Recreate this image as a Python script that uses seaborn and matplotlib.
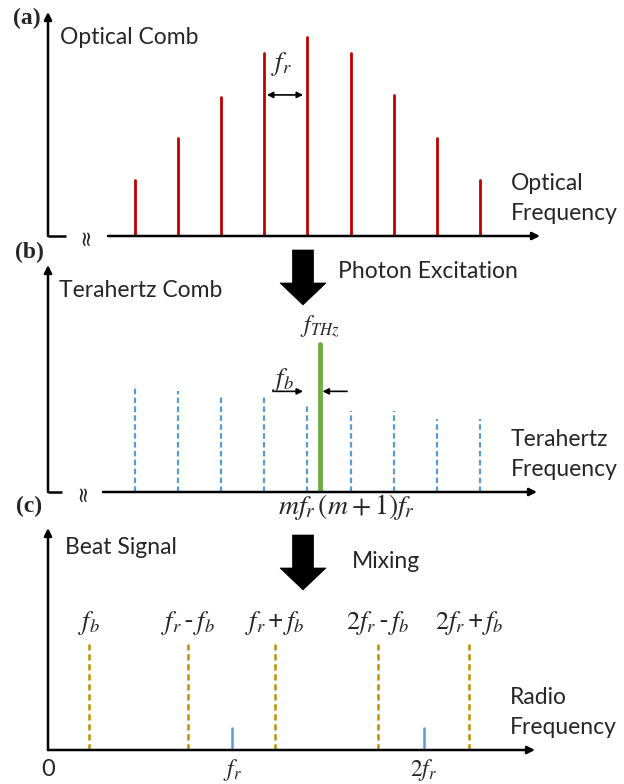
import numpy as np
import pandas as pd
import matplotlib
matplotlib.use("Agg")
import matplotlib.pyplot as plt
from matplotlib.patches import Polygon
import seaborn as sns

# ---------------- data ----------------
optical_idx = [0, 1, 2, 3, 4, 5, 6, 7, 8]
optical_amp = [0.28, 0.49, 0.70, 0.92, 1.00, 0.92, 0.71, 0.49, 0.28]

thz_idx = [0, 1, 2, 3, 4, 5, 6, 7, 8]
thz_amp = [0.72, 0.68, 0.65, 0.64, 0.60, 0.55, 0.55, 0.49, 0.49]
fthz_pos = [4.29]
fthz_amp = [1.0]

beat_pos = [0.218, 0.745, 1.207, 1.755, 2.239]
beat_amp = [1.0, 1.0, 1.0, 1.0, 1.0]
beat_labels = [r"$f_b$", r"$f_r\,$-$\,f_b$", r"$f_r\,$+$\,f_b$",
               r"$2f_r\,$-$\,f_b$", r"$2f_r\,$+$\,f_b$"]
rf_pos = [0.979, 2.0]
rf_amp = [0.21, 0.21]
tick_pos = [0.0, 0.979, 2.0]
tick_labels = ["0", r"$f_r$", r"$2f_r$"]

# ---------------- style ----------------
sns.set_theme(style="white")
plt.rcParams["font.family"] = ["Lato", "DejaVu Sans"]
plt.rcParams["mathtext.fontset"] = "stix"

W, H = 624, 784
fig = plt.figure(figsize=(W / 100, H / 100), dpi=100)

SANS = 16.5
MATH = 19


def px_axes(x0, y0, x1, y1):
    ax = fig.add_axes([x0 / W, 1 - y1 / H, (x1 - x0) / W, (y1 - y0) / H])
    ax.set_axis_off()
    return ax


def ftext(px, py, s, **kw):
    kw.setdefault("va", "center")
    fig.text(px / W, 1 - py / H, s, **kw)


def stems(pos, amp):
    rows = []
    for i, (x, a) in enumerate(zip(pos, amp)):
        rows.append(dict(x=x, y=0.0, id=i))
        rows.append(dict(x=x, y=a, id=i))
    return pd.DataFrame(rows)


def draw_axes(ax, gap=True, gap_end=0.037, squig=0.077, start=0.122):
    arrow = dict(arrowstyle="-|>", lw=1.8, color="black", mutation_scale=11,
                 shrinkA=0, shrinkB=0)
    ax.annotate("", xy=(0, 1), xytext=(0, 0), xycoords="axes fraction",
                arrowprops=arrow, annotation_clip=False)
    if gap:
        ax.plot([0, gap_end], [0, 0], color="black", lw=1.8,
                transform=ax.transAxes, clip_on=False, solid_capstyle="butt")
        ax.text(squig, 0.0, "≈", rotation=90, ha="center", va="center",
                fontsize=15, transform=ax.transAxes, family="DejaVu Sans")
        ax.annotate("", xy=(1, 0), xytext=(start, 0), xycoords="axes fraction",
                    arrowprops=arrow, annotation_clip=False)
    else:
        ax.annotate("", xy=(1, 0), xytext=(0, 0), xycoords="axes fraction",
                    arrowprops=arrow, annotation_clip=False)


def block_arrow(cx, top, head_y, tip):
    sw, hw = 10.5, 23
    verts = [(cx - sw, top), (cx + sw, top), (cx + sw, head_y), (cx + hw, head_y),
             (cx, tip), (cx - hw, head_y), (cx - sw, head_y)]
    verts = [(x / W, 1 - y / H) for x, y in verts]
    fig.patches.append(Polygon(verts, closed=True, transform=fig.transFigure,
                               facecolor="black", edgecolor="black", lw=0.5))


SX = 43.1  # pixels per comb index (layout only)

# ---------------- panel (a) ----------------
axa = px_axes(48, 12, 540, 236)
axa.set_xlim((48 - 135) / SX, (540 - 135) / SX)
axa.set_ylim(0, 224 / 199)
sns.lineplot(data=stems(optical_idx, optical_amp), x="x", y="y", units="id",
             estimator=None, sort=False, color="#C00000", lw=2.0, ax=axa,
             legend=False)
axa.set_axis_off()
draw_axes(axa)
axa.annotate("", xy=(3.90, 0.709), xytext=(3.06, 0.709),
             arrowprops=dict(arrowstyle="<|-|>", lw=1.2, color="black",
                             mutation_scale=9, shrinkA=0, shrinkB=0))
axa.text(3.39, 0.864, r"$f_r$", ha="center", va="center", fontsize=MATH)

ftext(27, 18, "(a)", ha="center", family="Liberation Serif", weight="bold", fontsize=17)
ftext(60, 38, "Optical Comb", fontsize=SANS)
ftext(511, 183, "Optical", fontsize=SANS)
ftext(511, 214, "Frequency", fontsize=SANS)

# ---------------- panel (b) ----------------
axb = px_axes(48, 265, 537, 492)
axb.set_xlim((48 - 135) / SX, (537 - 135) / SX)
axb.set_ylim(0, 227 / 148)
sns.lineplot(data=stems(thz_idx, thz_amp), x="x", y="y", units="id",
             estimator=None, sort=False, color="#5B9BD5", lw=1.6,
             linestyle=(0, (2.5, 1.5)), ax=axb, legend=False)
sns.lineplot(data=stems(fthz_pos, fthz_amp), x="x", y="y", units="id",
             estimator=None, sort=False, color="#70AD47", lw=3.5, ax=axb,
             legend=False)
axb.set_axis_off()
draw_axes(axb, gap_end=(62 - 48) / 489, squig=(83 - 48) / 489, start=(103 - 48) / 489)
small = dict(arrowstyle="-|>", lw=1.2, color="black", mutation_scale=9,
             shrinkA=0, shrinkB=0)
axb.annotate("", xy=(3.90, 0.68), xytext=(3.20, 0.68), arrowprops=small)
axb.annotate("", xy=(4.35, 0.68), xytext=(4.92, 0.68), arrowprops=small)
axb.text(3.43, 0.757, r"$f_b$", ha="center", va="center", fontsize=MATH)
axb.text(4.29, 1.12, r"$f_{THz}$", ha="center", va="center", fontsize=17)

ftext(29, 252, "(b)", ha="center", family="Liberation Serif", weight="bold", fontsize=17)
ftext(59, 290, "Terahertz Comb", fontsize=SANS)
ftext(338, 272, "Photon Excitation", fontsize=SANS)
ftext(511, 440, "Terahertz", fontsize=SANS)
ftext(511, 470, "Frequency", fontsize=SANS)
ftext(347, 507, r"$mf_r\,(m+1)f_r$", ha="center", fontsize=MATH + 1)
block_arrow(303, 250, 283, 305)

# ---------------- panel (c) ----------------
axc = px_axes(48, 528, 535, 750)
axc.set_xlim(0, 487 / 188)
axc.set_ylim(0, 222 / 106)
sns.lineplot(data=stems(beat_pos, beat_amp), x="x", y="y", units="id",
             estimator=None, sort=False, color="#BF9000", lw=1.8,
             linestyle=(0, (2.5, 1.5)), ax=axc, legend=False)
sns.lineplot(data=stems(rf_pos, rf_amp), x="x", y="y", units="id",
             estimator=None, sort=False, color="#5B9BD5", lw=1.8, ax=axc,
             legend=False)
axc.set_axis_off()
draw_axes(axc, gap=False)
for x, lab in zip(beat_pos, beat_labels):
    axc.text(x, 1.20, lab, ha="center", va="center", fontsize=MATH)
for x, lab in zip(tick_pos, tick_labels):
    axc.text(x, -20 / 222, lab, ha="center", va="center", fontsize=17,
             transform=axc.get_xaxis_transform())

ftext(29, 506, "(c)", ha="center", family="Liberation Serif", weight="bold", fontsize=17)
ftext(65, 547, "Beat Signal", fontsize=SANS)
ftext(352, 562, "Mixing", fontsize=SANS)
ftext(510, 697, "Radio", fontsize=SANS)
ftext(510, 728, "Frequency", fontsize=SANS)
block_arrow(303, 535, 568, 590)

fig.savefig("out.png", dpi=100)
